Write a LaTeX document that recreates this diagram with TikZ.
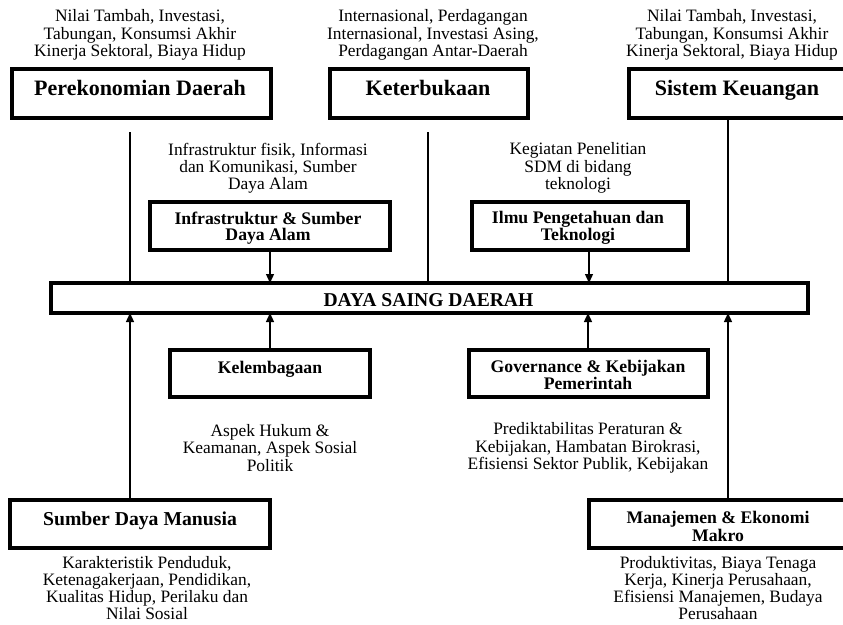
\documentclass[tikz,border=0pt]{standalone}
\usepackage{fontspec}
\setmainfont{Liberation Serif}
\usetikzlibrary{arrows.meta}
\begin{document}
\begin{tikzpicture}[x=1pt,y=-1pt,
  box/.style={draw, line width=4pt, inner sep=0pt, outer sep=0pt},
  conn/.style={line width=1.3pt},
  arr/.style={line width=1.3pt, -{Triangle[width=8pt,length=9pt]}},
  desc/.style={align=center, inner sep=0pt, font=\fontsize{17.4}{17.2}\selectfont},
  bigtitle/.style={inner sep=0pt, anchor=base, font=\fontsize{22}{22}\selectfont\bfseries},
  title/.style={align=center, inner sep=0pt, font=\fontsize{17.7}{16.5}\selectfont\bfseries},
]
\useasboundingbox (0,0) rectangle (843,624);

% top boxes
\node[box, minimum width=259pt, minimum height=49pt] (pd) at (141.5,93.5) {};
\node[bigtitle] (pdt) at (140,95.5) {Perekonomian Daerah};
\node[box, minimum width=198pt, minimum height=49pt] (kt) at (429,93.5) {};
\node[bigtitle] (ktt) at (428,95.5) {Keterbukaan};
\node[box, minimum width=217pt, minimum height=49pt] (sk) at (737.5,93.5) {};
\node[bigtitle] (skt) at (737,95.5) {Sistem Keuangan};

\node[desc] (pdd) at (140,35) {Nilai Tambah, Investasi,\\Tabungan, Konsumsi Akhir\\Kinerja Sektoral, Biaya Hidup};
\node[desc] (ktd) at (433,35) {Internasional, Perdagangan\\Internasional, Investasi Asing,\\Perdagangan Antar-Daerah};
\node[desc] (skd) at (732,35) {Nilai Tambah, Investasi,\\Tabungan, Konsumsi Akhir\\Kinerja Sektoral, Biaya Hidup};

% upper inner boxes
\node[desc] (infd) at (268,168) {Infrastruktur fisik, Informasi\\dan Komunikasi, Sumber\\Daya Alam};
\node[box, minimum width=240pt, minimum height=48pt] (inf) at (270,226) {};
\node[title] (inft) at (268,228) {Infrastruktur \& Sumber\\Daya Alam};

\node[desc] (ilmd) at (578,168) {Kegiatan Penelitian\\SDM di bidang\\teknologi};
\node[box, minimum width=216pt, minimum height=48pt] (ilm) at (580,226) {};
\node[title] (ilmt) at (578,228) {Ilmu Pengetahuan dan\\Teknologi};

% central box
\node[box, minimum width=757pt, minimum height=30pt] (ds) at (429.5,298) {};
\node[inner sep=0pt, anchor=base, font=\fontsize{19.6}{19.6}\selectfont\bfseries] (dst) at (428.5,306.5) {DAYA SAING DAERAH};

% lower inner boxes
\node[box, minimum width=200pt, minimum height=47pt] (kel) at (270,373.5) {};
\node[title, anchor=base] (kelt) at (270,373) {Kelembagaan};
\node[desc] (keld) at (270,448) {Aspek Hukum \&\\Keamanan, Aspek Sosial\\Politik};

\node[box, minimum width=239pt, minimum height=47pt] (gov) at (588.5,373.5) {};
\node[title] (govt) at (588,375) {Governance \& Kebijakan\\Pemerintah};
\node[desc] (govd) at (588,448) {Prediktabilitas Peraturan \&\\Kebijakan, Hambatan Birokrasi,\\Efisiensi Sektor Publik, Kebijakan};

% bottom boxes
\node[box, minimum width=260pt, minimum height=48pt] (sdm) at (140,524) {};
\node[inner sep=0pt, anchor=base, font=\fontsize{19.7}{19.7}\selectfont\bfseries] (sdmt) at (140,525) {Sumber Daya Manusia};
\node[desc, font=\fontsize{17.4}{16.8}\selectfont] (sdmd) at (147,588) {Karakteristik Penduduk,\\Ketenagakerjaan, Pendidikan,\\Kualitas Hidup, Perilaku dan\\Nilai Sosial};

\node[box, minimum width=257pt, minimum height=48pt] (man) at (717.5,524) {};
\node[title, font=\fontsize{17.7}{18}\selectfont\bfseries] (mant) at (718,526) {Manajemen \& Ekonomi\\Makro};
\node[desc, font=\fontsize{17.4}{16.8}\selectfont] (mand) at (718,588) {Produktivitas, Biaya Tenaga\\Kerja, Kinerja Perusahaan,\\Efisiensi Manajemen, Budaya\\Perusahaan};

% connectors from top
\coordinate (pds) at (130,132);
\coordinate (kts) at (428,132);
\draw[conn] (pds) -- (pds |- ds.north);
\draw[conn] (kts) -- (kts |- ds.north);
\draw[conn] (sk.south -| 728,0) -- (ds.north -| 728,0);
\draw[arr] (inf.south) -- (inf.south |- ds.north);
\draw[arr] (ilm.south -| 589,0) -- (ds.north -| 589,0);

% connectors from bottom
\draw[arr] (sdm.north -| 130,0) -- (ds.south -| 130,0);
\draw[arr] (kel.north) -- (kel.north |- ds.south);
\draw[arr] (gov.north -| 588,0) -- (ds.south -| 588,0);
\draw[arr] (man.north -| 728,0) -- (ds.south -| 728,0);
\end{tikzpicture}
\end{document}
